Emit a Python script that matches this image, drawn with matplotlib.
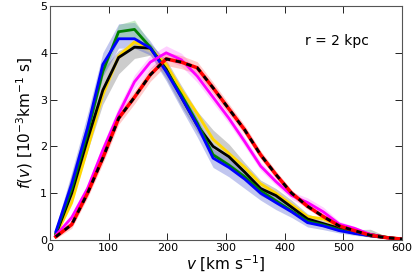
import matplotlib
matplotlib.use("Agg")
import matplotlib.pyplot as plt
import numpy as np

v = [10, 37, 64, 90, 117, 144, 171, 198, 224, 251, 278, 305, 332, 359, 385, 412, 439, 466, 493, 519, 546, 573, 600]

f_blue   = [0.18, 1.20, 2.40, 3.75, 4.30, 4.30, 4.10, 3.60, 3.05, 2.45, 1.75, 1.55, 1.30, 1.00, 0.80, 0.60, 0.37, 0.30, 0.20, 0.14, 0.09, 0.05, 0.02]
f_green  = [0.15, 1.10, 2.30, 3.60, 4.45, 4.50, 4.12, 3.62, 3.10, 2.50, 1.82, 1.60, 1.35, 1.05, 0.84, 0.62, 0.40, 0.32, 0.22, 0.15, 0.09, 0.05, 0.02]
f_black  = [0.12, 1.00, 2.15, 3.20, 3.90, 4.12, 4.10, 3.65, 3.05, 2.45, 2.00, 1.78, 1.45, 1.10, 0.95, 0.70, 0.45, 0.35, 0.25, 0.17, 0.12, 0.06, 0.02]
f_yellow = [0.10, 0.80, 1.95, 3.10, 3.93, 4.23, 4.08, 3.75, 3.20, 2.70, 2.15, 1.85, 1.55, 1.20, 1.00, 0.75, 0.50, 0.45, 0.30, 0.20, 0.12, 0.06, 0.02]
f_magenta= [0.10, 0.48, 1.10, 1.92, 2.70, 3.38, 3.80, 4.00, 3.85, 3.50, 3.05, 2.60, 2.10, 1.58, 1.25, 0.95, 0.80, 0.60, 0.34, 0.25, 0.12, 0.05, 0.02]
f_red    = [0.07, 0.33, 1.00, 1.75, 2.60, 3.05, 3.53, 3.87, 3.80, 3.68, 3.25, 2.80, 2.35, 1.82, 1.40, 1.00, 0.72, 0.50, 0.30, 0.20, 0.10, 0.05, 0.02]

black_lo = [0.08, 0.85, 1.90, 2.90, 3.55, 3.88, 3.95, 3.45, 2.85, 2.30, 1.85, 1.60, 1.30, 0.95, 0.80, 0.58, 0.38, 0.28, 0.18, 0.12, 0.08, 0.03, 0.01]
black_hi = [0.22, 1.40, 2.55, 3.65, 4.05, 4.20, 4.20, 3.85, 3.30, 2.75, 2.35, 2.05, 1.65, 1.28, 1.10, 0.85, 0.56, 0.42, 0.30, 0.22, 0.23, 0.08, 0.03]
blue_lo  = [0.10, 1.00, 2.20, 3.50, 4.10, 4.10, 3.95, 3.40, 2.80, 2.20, 1.55, 1.35, 1.10, 0.85, 0.65, 0.48, 0.28, 0.22, 0.15, 0.10, 0.06, 0.03, 0.01]
blue_hi  = [0.28, 1.45, 2.70, 4.00, 4.62, 4.65, 4.25, 3.75, 3.20, 2.60, 1.95, 1.75, 1.45, 1.15, 0.92, 0.70, 0.45, 0.36, 0.26, 0.18, 0.12, 0.07, 0.03]
green_sp = [0.03, 0.06, 0.08, 0.10, 0.15, 0.20, 0.08, 0.06, 0.06, 0.06, 0.06, 0.05, 0.05, 0.05, 0.04, 0.04, 0.03, 0.03, 0.03, 0.02, 0.02, 0.01, 0.01]
yellow_sp= [0.03, 0.05, 0.06, 0.08, 0.08, 0.08, 0.08, 0.07, 0.07, 0.06, 0.06, 0.05, 0.05, 0.05, 0.04, 0.04, 0.04, 0.04, 0.03, 0.02, 0.02, 0.01, 0.01]
magenta_sp=[0.04, 0.08, 0.10, 0.12, 0.15, 0.15, 0.15, 0.15, 0.14, 0.13, 0.12, 0.11, 0.10, 0.09, 0.08, 0.08, 0.10, 0.10, 0.06, 0.04, 0.03, 0.02, 0.01]
red_sp   = [0.04, 0.08, 0.10, 0.12, 0.13, 0.14, 0.14, 0.14, 0.14, 0.13, 0.12, 0.11, 0.10, 0.09, 0.08, 0.07, 0.06, 0.05, 0.04, 0.03, 0.03, 0.02, 0.01]

label_text = "r = 2 kpc"

V = np.array(v)
fig = plt.figure(figsize=(4.15, 2.74), dpi=100)
ax = fig.add_axes([50/415, 1-240/274, 352/415, 234/274])

def band(y, sp, color, alpha):
    y = np.array(y); sp = np.array(sp)
    ax.fill_between(V, y - sp, y + sp, color=color, alpha=alpha, lw=0)

ax.fill_between(V, black_lo, black_hi, color='gray', alpha=0.4, lw=0)
ax.fill_between(V, blue_lo, blue_hi, color='#3344cc', alpha=0.3, lw=0)
band(f_green, green_sp, '#66cc66', 0.35)
band(f_yellow, yellow_sp, '#ffe066', 0.35)
band(f_magenta, magenta_sp, '#ff66ff', 0.3)
band(f_red, red_sp, '#ff5555', 0.3)

ax.plot(V, f_yellow, color='#ffd700', lw=2, zorder=3)
ax.plot(V, f_black, color='black', lw=2, zorder=3)
ax.plot(V, f_green, color='#008000', lw=2, zorder=3)
ax.plot(V, f_blue, color='blue', lw=2, zorder=3)
ax.plot(V, f_magenta, color='magenta', lw=2, zorder=3)
ax.plot(V, f_red, color='red', lw=2.5, zorder=4)
ax.plot(V, f_red, color='black', lw=2, ls=(0, (2, 2)), zorder=5)

ax.set_xlim(0, 600)
ax.set_ylim(0, 5)
ax.set_xticks([0, 100, 200, 300, 400, 500, 600])
ax.set_yticks([0, 1, 2, 3, 4, 5])
ax.tick_params(direction='in', top=True, right=True, length=5, labelsize=8, width=0.6, pad=2)
for s in ax.spines.values():
    s.set_linewidth(0.8)
    s.set_color('#555555')
ax.set_xlabel(r'$v$ [km s$^{-1}$]', fontsize=11, labelpad=1)
ax.set_ylabel(r'$f(v)$ [10$^{-3}$km$^{-1}$ s]', fontsize=11, labelpad=4)
ax.text(0.724, 0.85, label_text, transform=ax.transAxes, fontsize=10, va='center', ha='left')

fig.savefig('out.png', dpi=100)
